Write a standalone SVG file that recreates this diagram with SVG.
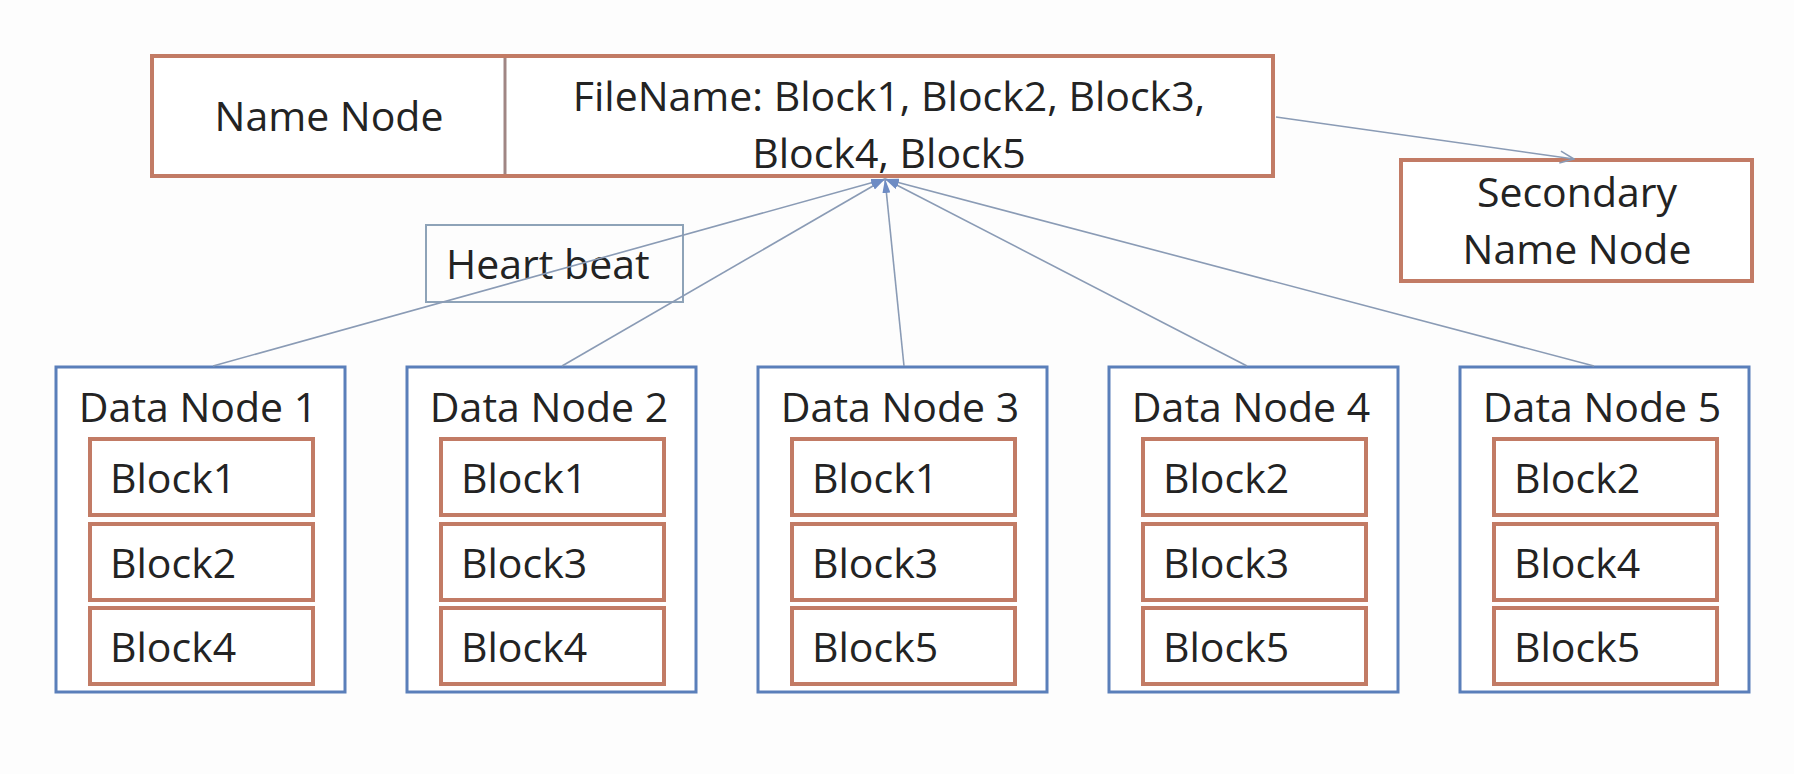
<svg xmlns="http://www.w3.org/2000/svg" width="1794" height="774" viewBox="0 0 1794 774">
  <defs>
    <marker id="hb" viewBox="0 0 14 8" refX="14" refY="4" markerWidth="14" markerHeight="8" markerUnits="userSpaceOnUse" orient="auto">
      <path d="M0,0 L14,4 L0,8 Z" fill="#6e8cc4"/>
    </marker>
    <marker id="open" viewBox="0 0 16 14" refX="15" refY="7" markerWidth="16" markerHeight="14" markerUnits="userSpaceOnUse" orient="auto">
      <path d="M1,1 L15,7 L1,13" fill="none" stroke="#8a9bb5" stroke-width="1.6"/>
    </marker>
  </defs>
  <style>
    text { font-family: "Open Sans", "Noto Sans", sans-serif; font-size: 41px; fill: #232323; }
    .mid { text-anchor: middle; }
    .orange { fill: #ffffff; stroke: #c27b65; stroke-width: 4; }
    .dn { fill: #ffffff; stroke: #5a7fba; stroke-width: 3; }
    .conn { fill: none; stroke: #8a9bb5; stroke-width: 1.6; }
  </style>
  <rect x="0" y="0" width="1794" height="774" fill="#fdfdfd"/>

  <g id="name-node">
    <rect class="orange" x="152" y="56" width="1121" height="120"/>
    <line x1="505" y1="58" x2="505" y2="174" stroke="#a08684" stroke-width="3"/>
    <text class="mid" x="329" y="131">Name Node</text>
    <text class="mid" x="889" y="111">FileName: Block1, Block2, Block3,</text>
    <text class="mid" x="889" y="168">Block4, Block5</text>
  </g>

  <g id="secondary-name-node">
    <rect class="orange" x="1401" y="160" width="351" height="121"/>
    <text class="mid" x="1577" y="207">Secondary</text>
    <text class="mid" x="1577" y="264">Name Node</text>
  </g>

  <g id="data-node-1">
    <rect class="dn" x="56" y="367" width="289" height="325"/>
    <text class="mid" x="198" y="422">Data Node 1</text>
    <rect class="orange" x="90" y="439" width="223" height="76"/>
    <text x="110" y="493">Block1</text>
    <rect class="orange" x="90" y="524" width="223" height="76"/>
    <text x="110" y="578">Block2</text>
    <rect class="orange" x="90" y="608" width="223" height="76"/>
    <text x="110" y="662">Block4</text>
  </g>

  <g id="data-node-2">
    <rect class="dn" x="407" y="367" width="289" height="325"/>
    <text class="mid" x="549" y="422">Data Node 2</text>
    <rect class="orange" x="441" y="439" width="223" height="76"/>
    <text x="461" y="493">Block1</text>
    <rect class="orange" x="441" y="524" width="223" height="76"/>
    <text x="461" y="578">Block3</text>
    <rect class="orange" x="441" y="608" width="223" height="76"/>
    <text x="461" y="662">Block4</text>
  </g>

  <g id="data-node-3">
    <rect class="dn" x="758" y="367" width="289" height="325"/>
    <text class="mid" x="900" y="422">Data Node 3</text>
    <rect class="orange" x="792" y="439" width="223" height="76"/>
    <text x="812" y="493">Block1</text>
    <rect class="orange" x="792" y="524" width="223" height="76"/>
    <text x="812" y="578">Block3</text>
    <rect class="orange" x="792" y="608" width="223" height="76"/>
    <text x="812" y="662">Block5</text>
  </g>

  <g id="data-node-4">
    <rect class="dn" x="1109" y="367" width="289" height="325"/>
    <text class="mid" x="1251" y="422">Data Node 4</text>
    <rect class="orange" x="1143" y="439" width="223" height="76"/>
    <text x="1163" y="493">Block2</text>
    <rect class="orange" x="1143" y="524" width="223" height="76"/>
    <text x="1163" y="578">Block3</text>
    <rect class="orange" x="1143" y="608" width="223" height="76"/>
    <text x="1163" y="662">Block5</text>
  </g>

  <g id="data-node-5">
    <rect class="dn" x="1460" y="367" width="289" height="325"/>
    <text class="mid" x="1602" y="422">Data Node 5</text>
    <rect class="orange" x="1494" y="439" width="223" height="76"/>
    <text x="1514" y="493">Block2</text>
    <rect class="orange" x="1494" y="524" width="223" height="76"/>
    <text x="1514" y="578">Block4</text>
    <rect class="orange" x="1494" y="608" width="223" height="76"/>
    <text x="1514" y="662">Block5</text>
  </g>

  <g id="heart-beat-label">
    <rect x="426" y="225" width="257" height="77" fill="none" stroke="#8ea3b8" stroke-width="2"/>
    <text x="446" y="279">Heart beat</text>
  </g>

  <g id="connectors">
    <line class="conn" x1="213" y1="366" x2="885" y2="179" marker-end="url(#hb)"/>
    <line class="conn" x1="562" y1="366" x2="885" y2="179" marker-end="url(#hb)"/>
    <line class="conn" x1="904" y1="366" x2="885" y2="179" marker-end="url(#hb)"/>
    <line class="conn" x1="1247" y1="366" x2="885" y2="179" marker-end="url(#hb)"/>
    <line class="conn" x1="1594" y1="366" x2="885" y2="179" marker-end="url(#hb)"/>
    <line class="conn" x1="1276" y1="117" x2="1574" y2="159" marker-end="url(#open)"/>
  </g>
</svg>
